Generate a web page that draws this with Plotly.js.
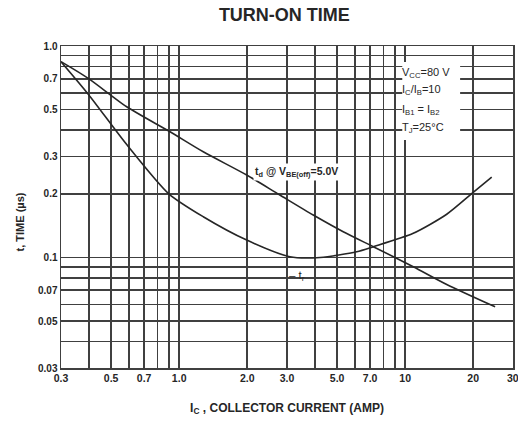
<!DOCTYPE html>
<html>
<head>
<meta charset="utf-8">
<script src="https://cdn.plot.ly/plotly-3.0.1.min.js"></script>
<style>
html,body{margin:0;padding:0;background:#fff;}
#chart{width:518px;height:421px;}
</style>
</head>
<body>
<div id="chart"></div>
<script>
// Collector current (A) and times (µs)
const tdCurrent = [0.3, 0.396, 0.586, 0.911, 1.278, 1.99, 2.79, 3.92, 5.32, 7.23, 10.86, 15.27, 25.0];
const tdTime    = [0.843, 0.703, 0.516, 0.393, 0.316, 0.2454, 0.1973, 0.1587, 0.1323, 0.1124, 0.0904, 0.0745, 0.0584];

const trCurrent = [0.3, 0.396, 0.586, 0.9, 1.278, 1.99, 3.09, 4.2, 6.1, 7.23, 10.86, 15.27, 20.0, 24.15];
const trTime    = [0.843, 0.592, 0.342, 0.2, 0.1558, 0.1208, 0.1008, 0.1, 0.1064, 0.1124, 0.130, 0.160, 0.203, 0.240];

const xGrid   = [0.3,0.4,0.5,0.6,0.7,0.8,0.9,1,2,3,4,5,6,7,8,9,10,20,30];
const xLabels = ['0.3','','0.5','','0.7','','','1.0','2.0','3.0','','5.0','','7.0','','','10','20',''];
const yGrid   = [0.03,0.04,0.05,0.06,0.07,0.08,0.09,0.1,0.2,0.3,0.4,0.5,0.6,0.7,0.8,0.9,1.0];
const yLabels = ['0.03','','0.05','','0.07','','','0.1','0.2','0.3','','0.5','','0.7','','','1.0'];

const conditions = ['V<sub>CC</sub>=80 V','I<sub>C</sub>/I<sub>B</sub>=10','I<sub>B1</sub> = I<sub>B2</sub>','T<sub>J</sub>=25°C'];

const ink = '#262626';
const gridInk = '#404040';
const font = 'Liberation Sans, Arial, sans-serif';

const traces = [
  {x: tdCurrent, y: tdTime, mode:'lines', line:{color:ink, width:1.6, shape:'spline', smoothing:0.7}, hoverinfo:'skip'},
  {x: trCurrent, y: trTime, mode:'lines', line:{color:ink, width:1.6, shape:'spline', smoothing:0.7}, hoverinfo:'skip'}
];

const condY = [0.916, 0.863, 0.801, 0.745];
const annotations = conditions.map((t,i)=>({
  xref:'paper', yref:'paper', x:0.75, y:condY[i], xanchor:'left', yanchor:'middle',
  text:t, showarrow:false, font:{family:font, size:11, color:ink}
}));
annotations.push({
  xref:'x', yref:'y', x:Math.log10(3.3), y:Math.log10(0.2535), xanchor:'center', yanchor:'middle',
  text:'<b>t<sub>d</sub> @ V<sub>BE(off)</sub>=5.0V</b>', showarrow:false, bgcolor:'#fff',
  font:{family:font, size:10.5, color:ink}
});
annotations.push({
  xref:'x', yref:'y', x:Math.log10(3.0), y:Math.log10(0.0817), xanchor:'left', yanchor:'middle',
  text:'– t<sub>r</sub>', showarrow:false, font:{family:font, size:11.5, color:ink}
});
annotations.push({
  xref:'paper', yref:'paper', x:-0.09, y:0.453, xanchor:'center', yanchor:'middle', textangle:-90,
  text:'<b>t, TIME (µs)</b>', showarrow:false, font:{family:font, size:11, color:ink}
});
annotations.push({
  xref:'paper', yref:'paper', x:1.0, y:0, xanchor:'center', yanchor:'top', yshift:-2,
  text:'<b>30</b>', showarrow:false, font:{family:font, size:10.5, color:ink}
});

const layout = {
  width:518, height:421,
  margin:{l:61, r:5, t:46, b:53},
  paper_bgcolor:'#fff', plot_bgcolor:'#fff',
  showlegend:false,
  title:{text:'<b>TURN-ON TIME</b>', x:0.549, xanchor:'center', y:0.965, yanchor:'middle', yref:'container',
         font:{family:font, size:18, color:ink}},
  xaxis:{type:'log', range:[Math.log10(0.3), Math.log10(30)], tickmode:'array',
         tickvals:xGrid, ticktext:xLabels.map(s=>s?'<b>'+s+'</b>':''),
         showgrid:true, gridcolor:gridInk, gridwidth:1.5, zeroline:false,
         showline:true, mirror:true, linecolor:gridInk, linewidth:1.5,
         ticks:'', tickfont:{family:font, size:10.5, color:ink},
         title:{text:'<b>I<sub>C</sub> , COLLECTOR CURRENT (AMP)</b>', standoff:20, font:{family:font, size:12, color:ink}}},
  yaxis:{type:'log', range:[Math.log10(0.03), Math.log10(1.0)], tickmode:'array',
         tickvals:yGrid, ticktext:yLabels.map(s=>s?'<b>'+s+'</b>':''),
         showgrid:true, gridcolor:gridInk, gridwidth:1.5, zeroline:false,
         showline:true, mirror:true, linecolor:gridInk, linewidth:1.5,
         ticks:'', tickfont:{family:font, size:10, color:ink}},
  shapes:[{type:'rect', xref:'paper', yref:'paper', x0:0.755, x1:0.883, y0:0.708, y1:0.95,
           fillcolor:'#fff', line:{width:0}, layer:'above'}],
  annotations:annotations
};

Plotly.newPlot('chart', traces, layout, {staticPlot:true, displayModeBar:false});
</script>
</body>
</html>
